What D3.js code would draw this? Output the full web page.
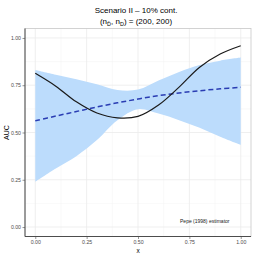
<!DOCTYPE html>
<html>
<head>
<meta charset="utf-8">
<script src="https://cdn.jsdelivr.net/npm/d3@7"></script>
<style>
  body { margin: 0; background: #fff; }
  text { font-family: "Liberation Sans", Arial, sans-serif; }
</style>
</head>
<body>
<svg width="254" height="254"></svg>
<script>
// ---- data ----
const xs       = [0, 0.1, 0.2, 0.3, 0.4, 0.5, 0.6, 0.7, 0.8, 0.9, 1.0];
const trueAuc  = [0.813, 0.745, 0.662, 0.603, 0.577, 0.585, 0.645, 0.740, 0.845, 0.915, 0.959];
const meanEst  = [0.562, 0.587, 0.611, 0.635, 0.657, 0.677, 0.695, 0.709, 0.721, 0.731, 0.739];
const bandHi   = [0.830, 0.805, 0.782, 0.755, 0.725, 0.727, 0.775, 0.820, 0.857, 0.880, 0.896];
const bandLo   = [0.240, 0.310, 0.375, 0.460, 0.565, 0.623, 0.600, 0.565, 0.525, 0.477, 0.434];
const tickVals = [0, 0.25, 0.5, 0.75, 1];
const minorVals = [0.125, 0.375, 0.625, 0.875];

const svg = d3.select("svg");
const pLeft = 25, pRight = 251, pTop = 28.5, pBottom = 236.5;

// ggplot style 5% expansion
const x = d3.scaleLinear().domain([-0.05, 1.05]).range([pLeft, pRight]);
const y = d3.scaleLinear().domain([-0.05, 1.05]).range([pBottom, pTop]);

const g = svg.append("g");

// grid lines
g.selectAll("line.minx").data(minorVals).enter().append("line")
  .attr("x1", d => x(d)).attr("x2", d => x(d)).attr("y1", pTop).attr("y2", pBottom)
  .style("stroke", "#f2f2f2").style("stroke-width", 0.5);
g.selectAll("line.miny").data(minorVals).enter().append("line")
  .attr("y1", d => y(d)).attr("y2", d => y(d)).attr("x1", pLeft).attr("x2", pRight)
  .style("stroke", "#f2f2f2").style("stroke-width", 0.5);
g.selectAll("line.majx").data(tickVals).enter().append("line")
  .attr("x1", d => x(d)).attr("x2", d => x(d)).attr("y1", pTop).attr("y2", pBottom)
  .style("stroke", "#ebebeb").style("stroke-width", 0.8);
g.selectAll("line.majy").data(tickVals).enter().append("line")
  .attr("y1", d => y(d)).attr("y2", d => y(d)).attr("x1", pLeft).attr("x2", pRight)
  .style("stroke", "#ebebeb").style("stroke-width", 0.8);

// panel border (light)
g.append("rect").attr("x", pLeft).attr("y", pTop)
  .attr("width", pRight - pLeft).attr("height", pBottom - pTop)
  .style("fill", "none").style("stroke", "#c8c8c8").style("stroke-width", 0.8);

const pts = xs.map((v, i) => ({x: v, t: trueAuc[i], m: meanEst[i], hi: bandHi[i], lo: bandLo[i]}));

// ribbon
g.append("path").datum(pts)
  .attr("d", d3.area().curve(d3.curveCatmullRom)
    .x(d => x(d.x)).y0(d => y(d.lo)).y1(d => y(d.hi)))
  .style("fill", "#bcdcfc");

// mean estimate, dashed
g.append("path").datum(pts)
  .attr("d", d3.line().curve(d3.curveCatmullRom).x(d => x(d.x)).y(d => y(d.m)))
  .style("fill", "none").style("stroke", "#2a3db3").style("stroke-width", 1.5)
  .style("stroke-dasharray", "5,3");

// true AUC
g.append("path").datum(pts)
  .attr("d", d3.line().curve(d3.curveCatmullRom).x(d => x(d.x)).y(d => y(d.t)))
  .style("fill", "none").style("stroke", "#1a1a1a").style("stroke-width", 1.2);

// axes
const xAxis = d3.axisBottom(x).tickValues(tickVals).tickFormat(d3.format(".2f")).tickSize(2.5).tickPadding(1.5);
const yAxis = d3.axisLeft(y).tickValues(tickVals).tickFormat(d3.format(".2f")).tickSize(2.5).tickPadding(1.5);

const gx = svg.append("g").attr("transform", `translate(0,${pBottom})`).call(xAxis);
const gy = svg.append("g").attr("transform", `translate(${pLeft},0)`).call(yAxis);
[gx, gy].forEach(a => {
  a.select(".domain").style("stroke", "#4d4d4d").style("stroke-width", 1);
  a.selectAll(".tick line").style("stroke", "#4d4d4d").style("stroke-width", 0.6);
  a.selectAll(".tick text").style("fill", "#4d4d4d").style("font-size", "5.2px")
    .style("font-family", "Liberation Sans, Arial, sans-serif");
});
// domain without outer ticks
gx.select(".domain").attr("d", `M${pLeft},0H${pRight}`);
gy.select(".domain").attr("d", `M0,${pTop}V${pBottom}`);

// axis titles
svg.append("text").attr("x", (pLeft + pRight) / 2).attr("y", 252.5)
  .attr("text-anchor", "middle").style("font-size", "6.5px").text("x");
svg.append("text").attr("transform", `translate(9,${(pTop + pBottom) / 2}) rotate(-90)`)
  .attr("text-anchor", "middle").style("font-size", "7px").text("AUC");

// titles
svg.append("text").attr("x", (pLeft + pRight) / 2 - 2).attr("y", 13)
  .attr("text-anchor", "middle").style("font-size", "8px").text("Scenario II \u2013 10% cont.");
const sub = svg.append("text").attr("x", (pLeft + pRight) / 2 - 2).attr("y", 24)
  .attr("text-anchor", "middle").style("font-size", "8px");
sub.append("tspan").text("(n");
sub.append("tspan").attr("dy", 1.5).style("font-size", "5.5px").text("D\u0304");
sub.append("tspan").attr("dy", -1.5).text(", n");
sub.append("tspan").attr("dy", 1.5).style("font-size", "5.5px").text("D");
sub.append("tspan").attr("dy", -1.5).text(") = (200, 200)");

// annotation
svg.append("text").attr("x", x(0.825)).attr("y", y(0.02))
  .attr("text-anchor", "middle").style("font-size", "5px").style("fill", "#222")
  .text("Pepe (1998) estimator");
</script>
</body>
</html>
